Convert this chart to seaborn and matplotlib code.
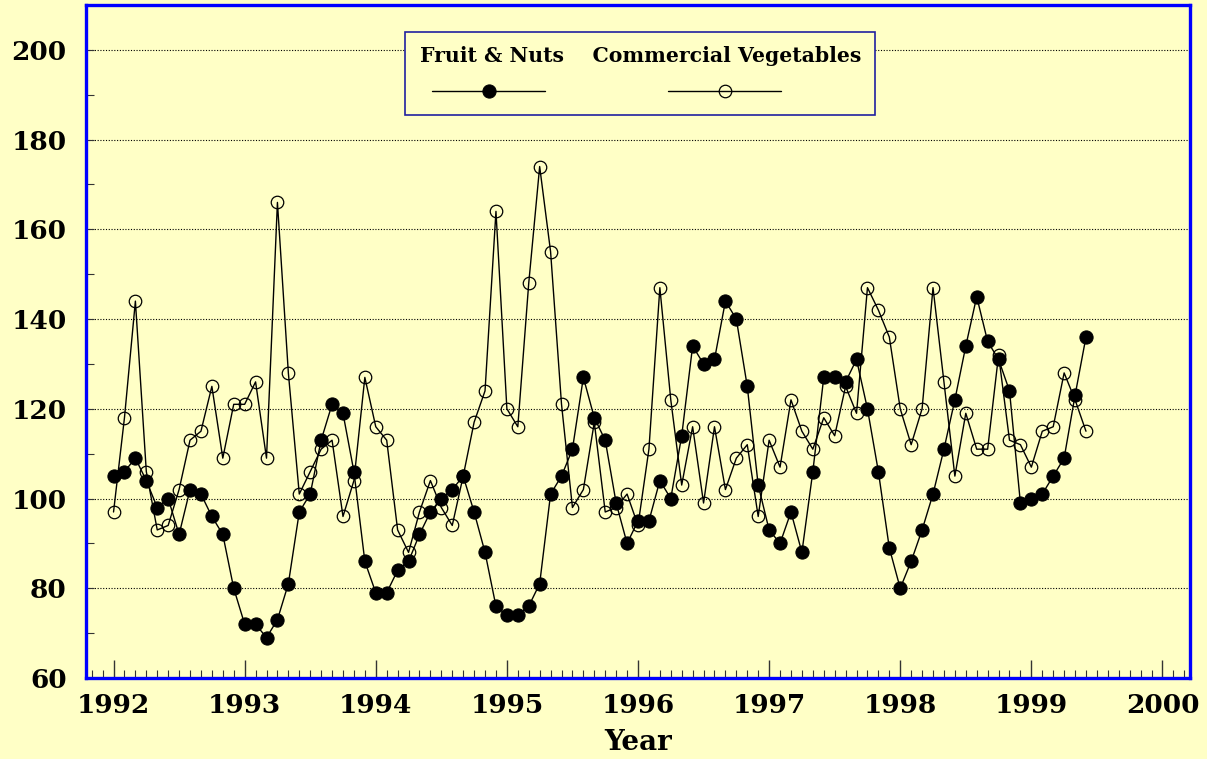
import numpy as np
import pandas as pd
import matplotlib
matplotlib.use("Agg")
import matplotlib.pyplot as plt
import seaborn as sns
from matplotlib.ticker import MultipleLocator

# ---- data (monthly, Jan 1992 - Jun 1999) ----
start_year = 1992
n_months = 90
fruit_nuts = [105, 106, 109, 104, 98, 100, 92, 102, 101, 96, 92, 80,
              72, 72, 69, 73, 81, 97, 101, 113, 121, 119, 106, 86,
              79, 79, 84, 86, 92, 97, 100, 102, 105, 97, 88, 76,
              74, 74, 76, 81, 101, 105, 111, 127, 118, 113, 99, 90,
              95, 95, 104, 100, 114, 134, 130, 131, 144, 140, 125, 103,
              93, 90, 97, 88, 106, 127, 127, 126, 131, 120, 106, 89,
              80, 86, 93, 101, 111, 122, 134, 145, 135, 131, 124, 99,
              100, 101, 105, 109, 123, 136]
commercial_veg = [97, 118, 144, 106, 93, 94, 102, 113, 115, 125, 109, 121,
                  121, 126, 109, 166, 128, 101, 106, 111, 113, 96, 104, 127,
                  116, 113, 93, 88, 97, 104, 98, 94, 105, 117, 124, 164,
                  120, 116, 148, 174, 155, 121, 98, 102, 117, 97, 98, 101,
                  94, 111, 147, 122, 103, 116, 99, 116, 102, 109, 112, 96,
                  113, 107, 122, 115, 111, 118, 114, 125, 119, 147, 142, 136,
                  120, 112, 120, 147, 126, 105, 119, 111, 111, 132, 113, 112,
                  107, 115, 116, 128, 122, 115]
year_ticks = [1992, 1993, 1994, 1995, 1996, 1997, 1998, 1999, 2000]
y_ticks = [60, 80, 100, 120, 140, 160, 180, 200]
series_names = ["Fruit & Nuts", "Commercial Vegetables"]

month_index = np.arange(n_months)
x_time = start_year + month_index / 12.0
df = pd.DataFrame({"Year": x_time, series_names[0]: fruit_nuts,
                   series_names[1]: commercial_veg})

BG = "#FFFFC6"
sns.set_style("ticks")
plt.rcParams["font.family"] = ["DejaVu Serif"]
plt.rcParams["font.weight"] = "bold"
plt.rcParams["text.color"] = "black"
plt.rcParams["axes.labelcolor"] = "black"

fig = plt.figure(figsize=(12.07, 7.59), dpi=100, facecolor=BG)
ax = fig.add_axes([86/1207, 1 - 678/759, (1190-86)/1207, (678-5)/759])
ax.set_facecolor(BG)

sns.lineplot(data=df, x="Year", y=series_names[0], ax=ax, color="black",
             linewidth=1.0, marker="o", markersize=9.5, markerfacecolor="black",
             markeredgecolor="black", label=series_names[0], zorder=3)
sns.lineplot(data=df, x="Year", y=series_names[1], ax=ax, color="black",
             linewidth=1.0, marker="o", markersize=9, markerfacecolor="none",
             markeredgecolor="black", markeredgewidth=0.9,
             label=series_names[1], zorder=4)

ax.set_xlim(1991.79, 2000.21)
ax.set_ylim(60, 210)
ax.set_xticks(year_ticks)
ax.set_xticklabels([str(y) for y in year_ticks])
ax.xaxis.set_minor_locator(MultipleLocator(1/12))
ax.set_yticks(y_ticks)
ax.yaxis.set_minor_locator(MultipleLocator(10))

ax.tick_params(axis="x", which="major", direction="in", length=13, width=1,
               color="#333333", labelcolor="black", labelsize=19, pad=11)
ax.tick_params(axis="x", which="minor", direction="in", length=6, width=0.8,
               color="#333333")
ax.tick_params(axis="y", which="major", direction="in", length=6, width=0.8,
               color="#333333", labelcolor="black", labelsize=19, pad=14)
ax.tick_params(axis="y", which="minor", direction="in", length=6, width=0.8,
               color="#333333")
for lab in ax.get_xticklabels() + ax.get_yticklabels():
    lab.set_fontweight("bold")

ax.grid(axis="y", which="major", linestyle=(0, (1, 1.5)), color="black",
        linewidth=0.8)
ax.set_axisbelow(True)
for sp in ax.spines.values():
    sp.set_color("#0000FF")
    sp.set_linewidth(2.4)

ax.set_xlabel("Year", fontsize=20, fontweight="bold", labelpad=8)
ax.set_ylabel("")

handles, _ = ax.get_legend_handles_labels()
leg = ax.legend(handles=handles, labels=["", ""], ncol=2,
                title=series_names[0] + "    " + series_names[1],
                title_fontproperties={"family": "DejaVu Serif", "weight": "bold", "size": 14.7},
                loc="upper center", bbox_to_anchor=(0.502, 0.96), borderaxespad=0,
                handlelength=6.26, handletextpad=3.7, columnspacing=3.1,
                borderpad=0.78, labelspacing=0.95, frameon=True, fancybox=False,
                facecolor=BG, edgecolor="#2020A0", framealpha=1, fontsize=13)
leg.get_frame().set_linewidth(1.2)

fig.savefig("out.png", dpi=100, facecolor=BG)
